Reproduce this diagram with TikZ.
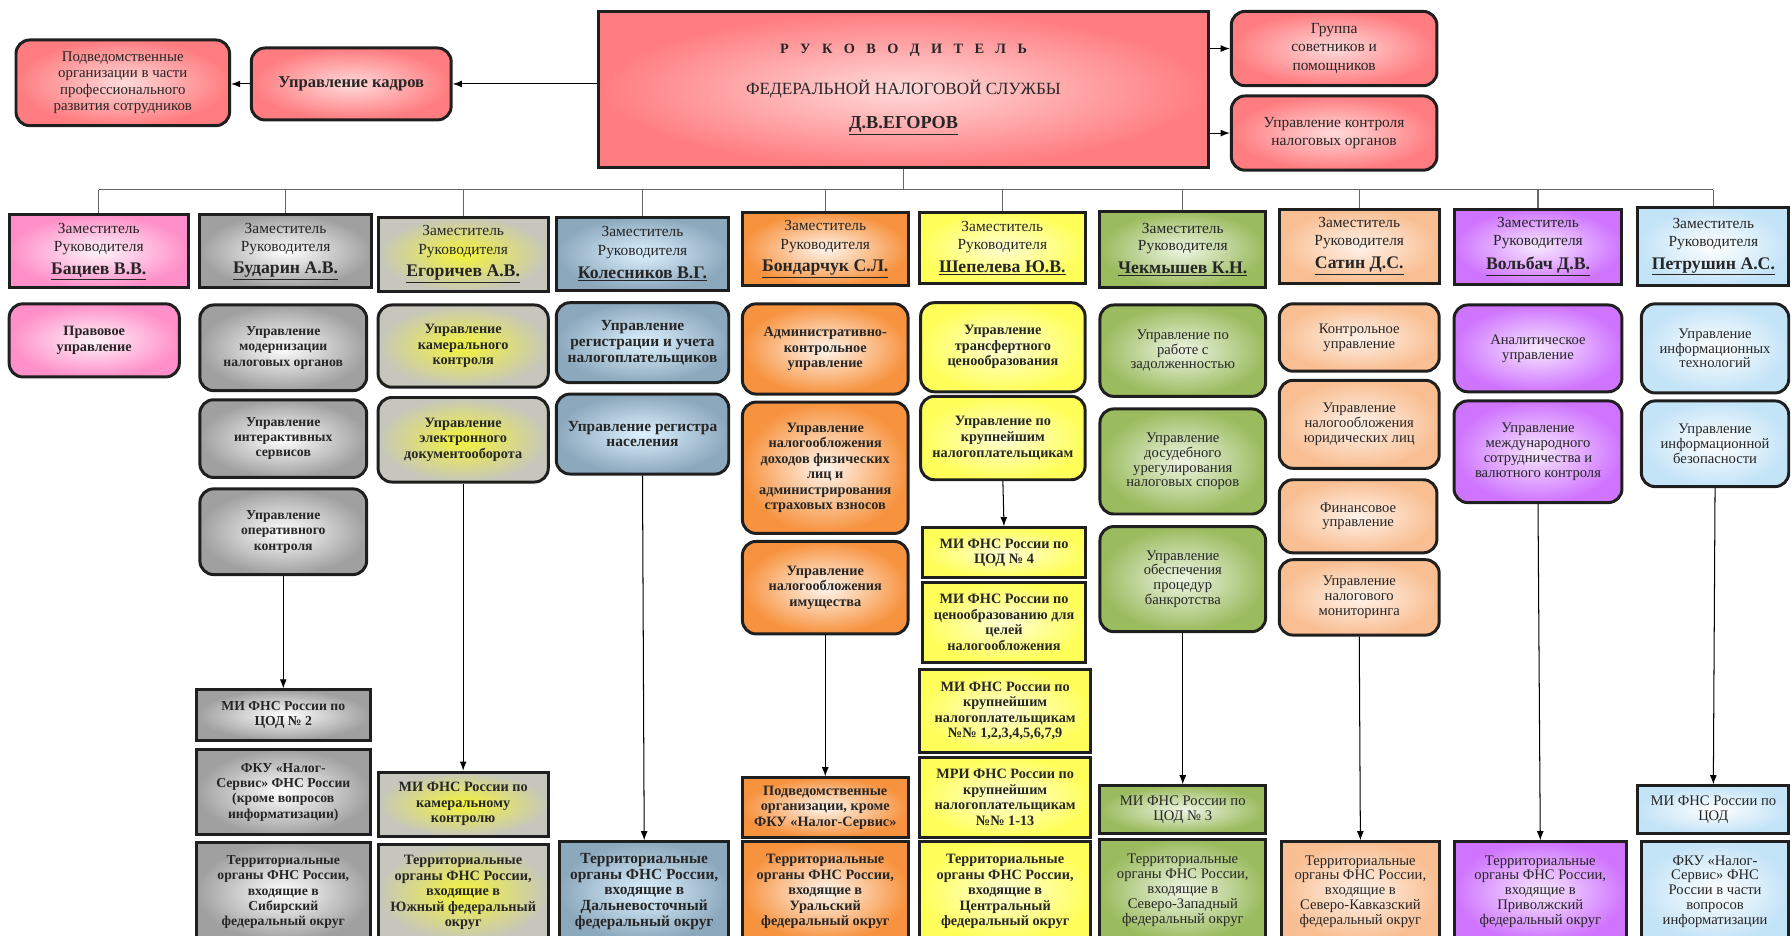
\documentclass[tikz,border=0pt]{standalone}
\usepackage{fontspec}
\setmainfont{Liberation Serif}
\usetikzlibrary{arrows.meta}
\definecolor{redO}{HTML}{FF7C80}
\definecolor{redI}{HTML}{FFDADA}
\definecolor{pinkO}{HTML}{FF8FC8}
\definecolor{pinkI}{HTML}{FFF4FA}
\definecolor{greyO}{HTML}{A0A0A0}
\definecolor{greyI}{HTML}{FFFFFF}
\definecolor{ygO}{HTML}{C6C6BC}
\definecolor{ygI}{HTML}{F4F43A}
\definecolor{blueO}{HTML}{8CA8BD}
\definecolor{blueI}{HTML}{DDF2FF}
\definecolor{oraO}{HTML}{F7923E}
\definecolor{oraI}{HTML}{FFF6EE}
\definecolor{yelO}{HTML}{FFFF5A}
\definecolor{yelI}{HTML}{FFFFD4}
\definecolor{grnO}{HTML}{9ABB5E}
\definecolor{grnI}{HTML}{EEF5E4}
\definecolor{peaO}{HTML}{F9BE92}
\definecolor{peaI}{HTML}{FFF3EA}
\definecolor{vioO}{HTML}{CF74FF}
\definecolor{vioI}{HTML}{F8E8FF}
\definecolor{skyO}{HTML}{C3E3F7}
\definecolor{skyI}{HTML}{FFFFFF}
\newcommand{\bx}[7]{\node[#2, minimum width={(#5)-(#3)}, minimum height={(#6)-(#4)}] (#1) at ({((#3)+(#5))/2},{((#4)+(#6))/2}) {#7};}
\newcommand{\zr}{\fontsize{13.5}{15}\selectfont\mdseries}
\newcommand{\dep}[1]{\zr Заместитель\\[2.5pt]\zr Руководителя\\[6pt]\fontsize{15.5}{16}\selectfont\bfseries\underline{#1}}
\newcommand{\ter}[1]{Территориальные\\органы ФНС России,\\входящие в\\#1}
\newcommand{\lsp}{\hspace{10pt}}
\tikzset{
  base/.style={draw=black!88, line width=2.6pt, align=center, inner sep=2pt, text=black!85, font=\fontsize{12.8}{13}\selectfont},
  rbox/.style={base, rounded corners=12pt},
  sbox/.style={base},
  bfA/.style={font=\fontsize{12}{13.4}\selectfont\bfseries},
  bfB/.style={font=\fontsize{12.5}{13.6}\selectfont\bfseries},
  bfC/.style={font=\fontsize{13.5}{13.9}\selectfont\bfseries},
  cR/.style={inner color=redI, outer color=redO},
  c1/.style={inner color=pinkI, outer color=pinkO, bfB},
  c2/.style={inner color=greyI, outer color=greyO, bfA},
  c3/.style={inner color=ygI, outer color=ygO, bfB},
  c4/.style={inner color=blueI, outer color=blueO, bfC},
  c5/.style={inner color=oraI, outer color=oraO, bfB},
  c6/.style={inner color=yelI, outer color=yelO, bfB},
  c7/.style={inner color=grnI, outer color=grnO},
  c8/.style={inner color=peaI, outer color=peaO},
  c9/.style={inner color=vioI, outer color=vioO},
  c10/.style={inner color=skyI, outer color=skyO},
  arr/.style={-{Latex[length=8pt,width=6pt]}, line width=0.9pt, black},
  busline/.style={line width=1pt, black!60}
}
\begin{document}
\begin{tikzpicture}[x=1pt, y=-1pt]
\useasboundingbox (0,0) rectangle (1568,819.4);
% top level
\bx{sub}{rbox,cR,font=\fontsize{13}{14.5}\selectfont}{14}{35}{201}{110}{Подведомственные\\организации в части\\профессионального\\развития сотрудников}
\bx{kadr}{rbox,cR,font=\fontsize{14.5}{16}\selectfont\bfseries}{220}{42}{395}{105}{Управление кадров}
\bx{head}{sbox,cR,font=\fontsize{12.5}{15}\selectfont}{524}{10}{1058}{147}{\textbf{Р\lsp У\lsp К\lsp О\lsp В\lsp О\lsp Д\lsp И\lsp Т\lsp Е\lsp Л\lsp Ь}\\[19pt]\fontsize{15}{16}\selectfont ФЕДЕРАЛЬНОЙ НАЛОГОВОЙ СЛУЖБЫ\\[15pt]\fontsize{16}{16}\selectfont\bfseries\underline{Д.В.ЕГОРОВ}}
\bx{grp}{rbox,cR,font=\fontsize{13.5}{16.5}\selectfont}{1078}{10}{1258}{75}{Группа\\советников и\\помощников}
\bx{ctrl}{rbox,cR,font=\fontsize{13.5}{15}\selectfont}{1078}{84}{1258}{149}{Управление контроля\\налоговых органов}
\draw[arr] (kadr.east -| head.west) -- (kadr.east);
\draw[arr] (kadr.west) -- (kadr.west -| sub.east);
\draw[arr] (head.east |- grp.west) -- (grp.west);
\draw[arr] (head.east |- ctrl.west) -- (ctrl.west);
% deputies
\bx{d1}{sbox,c1}{8}{188}{165}{252}{\dep{Бациев В.В.}}
\bx{d2}{sbox,c2}{175}{188}{325}{252}{\dep{Бударин А.В.}}
\bx{d3}{sbox,c3}{331}{190}{480}{255}{\dep{Егоричев А.В.}}
\bx{d4}{sbox,c4}{487}{190}{638}{254}{\dep{Колесников В.Г.}}
\bx{d5}{sbox,c5}{650}{186}{795}{250}{\dep{Бондарчук С.Л.}}
\bx{d6}{sbox,c6}{805}{186}{950}{248}{\dep{Шепелева Ю.В.}}
\bx{d7}{sbox,c7}{963}{185}{1108}{252}{\dep{Чекмышев К.Н.}}
\bx{d8}{sbox,c8}{1120}{183}{1260}{248}{\dep{Сатин Д.С.}}
\bx{d9}{sbox,c9}{1273}{183}{1420}{249}{\dep{Вольбач Д.В.}}
\bx{d10}{sbox,c10}{1434}{182}{1566}{250}{\dep{Петрушин А.С.}}
% bus
\coordinate (busL) at (86.5,166);
\coordinate (busR) at (1500,166);
\draw[busline] (busL) -- (busR);
\draw[busline] (head.south) -- (head.south |- busL);
\foreach \d in {d1,d2,d3,d4,d5,d6,d7,d8,d9,d10}{\draw[busline] (\d.north) -- (\d.north |- busL);}
% column 1
\bx{c1a}{rbox,c1}{8}{266}{157}{330}{Правовое\\управление}
% column 2
\bx{c2a}{rbox,c2}{175}{267}{321}{342}{Управление\\модернизации\\налоговых органов}
\bx{c2b}{rbox,c2}{175}{350}{321}{418}{Управление\\интерактивных\\сервисов}
\bx{c2c}{rbox,c2}{175}{428}{321}{503}{Управление\\оперативного\\контроля}
\bx{c2d}{sbox,c2}{172}{604}{324}{648}{МИ ФНС России по\\ЦОД №~2}
\bx{c2e}{sbox,c2}{172}{656}{324}{731}{ФКУ «Налог-\\Сервис» ФНС России\\(кроме вопросов\\информатизации)}
\bx{c2f}{sbox,c2}{172}{738}{324}{824}{\ter{Сибирский\\федеральный округ}}
\draw[arr] (c2c.south) -- (c2d.north);
% column 3
\bx{c3a}{rbox,c3}{331}{267}{480}{339}{Управление\\камерального\\контроля}
\bx{c3b}{rbox,c3}{331}{348}{480}{422}{Управление\\электронного\\документооборота}
\bx{c3c}{sbox,c3}{331}{676}{480}{732}{МИ ФНС России по\\камеральному\\контролю}
\bx{c3d}{sbox,c3}{331}{739}{480}{824}{\ter{Южный федеральный\\округ}}
\draw[arr] (c3b.south) -- (c3c.north);
% column 4
\bx{c4a}{rbox,c4}{487}{265}{638}{335}{Управление\\регистрации и учета\\налогоплательщиков}
\bx{c4b}{rbox,c4}{487}{345}{638}{415}{Управление регистра\\населения}
\bx{c4c}{sbox,c4}{490}{737}{638}{824}{\ter{Дальневосточный\\федеральный округ}}
\draw[arr] (c4b.south) -- (c4c.north);
% column 5
\bx{c5a}{rbox,c5}{650}{266}{795}{345}{Административно-\\контрольное\\управление}
\bx{c5b}{rbox,c5}{650}{352}{795}{467}{Управление\\налогообложения\\доходов физических\\лиц и\\администрирования\\страховых взносов}
\bx{c5c}{rbox,c5}{650}{474}{795}{555}{Управление\\налогообложения\\имущества}
\bx{c5d}{sbox,c5}{650}{681}{795}{733}{Подведомственные\\организации, кроме\\ФКУ «Налог-Сервис»}
\bx{c5e}{sbox,c5}{650}{737}{795}{824}{\ter{Уральский\\федеральный округ}}
\draw[arr] (c5c.south) -- (c5d.north);
% column 6
\bx{c6a}{rbox,c6}{806}{265}{950}{343}{Управление\\трансфертного\\ценообразования}
\bx{c6b}{rbox,c6}{806}{347}{950}{420}{Управление по\\крупнейшим\\налогоплательщикам}
\bx{c6c}{sbox,c6}{808}{462}{950}{506}{МИ ФНС России по\\ЦОД №~4}
\bx{c6d}{sbox,c6}{808}{510}{950}{580}{МИ ФНС России по\\ценообразованию для\\целей\\налогообложения}
\bx{c6e}{sbox,c6}{805}{586}{955}{659}{МИ ФНС России по\\крупнейшим\\налогоплательщикам\\№№ 1,2,3,4,5,6,7,9}
\bx{c6f}{sbox,c6}{805}{663}{955}{733}{МРИ ФНС России по\\крупнейшим\\налогоплательщикам\\№№ 1-13}
\bx{c6g}{sbox,c6}{805}{737}{955}{824}{\ter{Центральный\\федеральный округ}}
\draw[arr] (c6b.south) -- (c6c.north);
% column 7
\bx{c7a}{rbox,c7}{963}{267}{1108}{347}{Управление по\\работе с\\задолженностью}
\bx{c7b}{rbox,c7}{963}{358}{1108}{450}{Управление\\досудебного\\урегулирования\\налоговых споров}
\bx{c7c}{rbox,c7}{963}{461}{1108}{553}{Управление\\обеспечения\\процедур\\банкротства}
\bx{c7d}{sbox,c7}{963}{688}{1108}{730}{МИ ФНС России по\\ЦОД №~3}
\bx{c7e}{sbox,c7}{963}{735}{1108}{824}{\ter{Северо-Западный\\федеральный округ}}
\draw[arr] (c7c.south) -- (c7d.north);
% column 8
\bx{c8a}{rbox,c8}{1120}{266}{1260}{325}{Контрольное\\управление}
\bx{c8b}{rbox,c8}{1120}{333}{1260}{410}{Управление\\налогообложения\\юридических лиц}
\bx{c8c}{rbox,c8}{1120}{420}{1258}{484}{Финансовое\\управление}
\bx{c8d}{rbox,c8}{1120}{490}{1260}{556}{Управление\\налогового\\мониторинга}
\bx{c8e}{sbox,c8}{1122}{737}{1260}{824}{\ter{Северо-Кавказский\\федеральный округ}}
\draw[arr] (c8d.south) -- (c8e.north);
% column 9
\bx{c9a}{rbox,c9}{1273}{267}{1420}{343}{Аналитическое\\управление}
\bx{c9b}{rbox,c9}{1273}{351}{1420}{440}{Управление\\международного\\сотрудничества и\\валютного контроля}
\bx{c9c}{sbox,c9}{1273}{737}{1424}{824}{\ter{Приволжский\\федеральный округ}}
\draw[arr] (c9b.south) -- (c9c.north);
% column 10
\bx{c10a}{rbox,c10}{1437}{266}{1566}{344}{Управление\\информационных\\технологий}
\bx{c10b}{rbox,c10}{1437}{351}{1566}{426}{Управление\\информационной\\безопасности}
\bx{c10c}{sbox,c10}{1434}{688}{1566}{730}{МИ ФНС России по\\ЦОД}
\bx{c10d}{sbox,c10}{1437}{737}{1566}{824}{ФКУ «Налог-\\Сервис» ФНС\\России в части\\вопросов\\информатизации}
\draw[arr] (c10b.south) -- (c10c.north);
\end{tikzpicture}
\end{document}
